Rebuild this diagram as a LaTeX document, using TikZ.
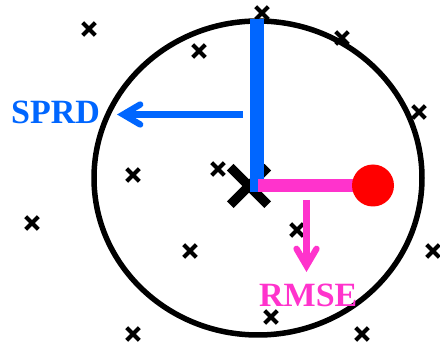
\documentclass[tikz,border=0pt]{standalone}
\usepackage{fontspec}
\setmainfont{Liberation Serif}
\usetikzlibrary{arrows.meta,shapes.misc}
\definecolor{sprdblue}{HTML}{0066FF}
\definecolor{rmsepink}{HTML}{FF33CC}
\definecolor{obsred}{HTML}{FF0000}
\tikzset{
  smallx/.style={cross out, draw=black, line width=4.2pt, minimum size=8.5pt, inner sep=0pt},
  bigx/.style={cross out, draw=black, line width=9.5pt, minimum size=28pt, inner sep=0pt},
  barb/.style={-{Straight Barb[length=17pt,width=20pt,line cap=round]}, line width=6.3pt},
  lbl/.style={font=\fontsize{34}{36}\selectfont\bfseries, inner sep=0pt, anchor=base west}
}
\begin{document}
\begin{tikzpicture}[x=1pt,y=-1pt]
\useasboundingbox (0,0) rectangle (440,342);
% ensemble spread circle
\draw[line width=5.5pt] (258,178) ellipse [x radius=164, y radius=157];
% ensemble members
\foreach \n/\x/\y in {a/89/29, b/199/51, c/262/13, d/342/38, e/419/112, f/133/175,
  g/32/223, h/190/251, i/133/334, j/218/169, k/297/230, l/433/251, m/271/317, o/362/334}
  \node[smallx] (m\n) at (\x,\y) {};
% ensemble mean
\node[bigx] (mean) at (249,186) {};
\coordinate (top) at (257,19);
\coordinate (obsc) at (373,185.5);
% SPRD and RMSE bars
\draw[sprdblue, line width=13.5pt] (top) -- (257,192);
\draw[rmsepink, line width=13.5pt] (258,185.5) -- (obsc);
% observation
\node[circle, fill=obsred, minimum size=42pt, inner sep=0pt] (obs) at (obsc) {};
% labels
\node[lbl, text=sprdblue] (sprd) at (11,124) {SPRD};
\node[lbl, text=rmsepink] (rmse) at (259,307) {RMSE};
\coordinate (sprdstart) at (243,114.5);
\coordinate (sprdtip) at (117,114.5);
\coordinate (rmsestart) at (306.5,200);
\coordinate (rmsetip) at (306.5,272);
\draw[barb, sprdblue] (sprdstart) -- (sprdtip);
\draw[barb, rmsepink] (rmsestart) -- (rmsetip);
\end{tikzpicture}
\end{document}
